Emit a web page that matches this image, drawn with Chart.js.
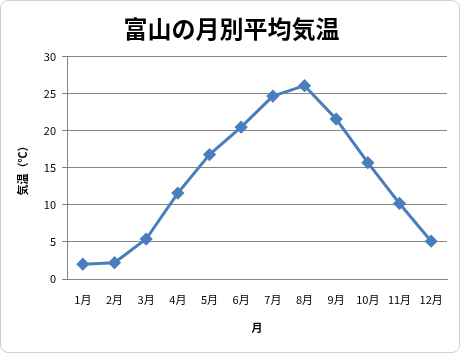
<!DOCTYPE html>
<html>
<head>
<meta charset="utf-8">
<script src="https://cdn.jsdelivr.net/npm/chart.js@4/dist/chart.umd.min.js"></script>
<style>
  html, body { margin: 0; padding: 0; background: #fff; }
  #box { position: relative; width: 458px; height: 351px; border: 1px solid #d0d0d0; border-radius: 8px; overflow: hidden; }
  canvas { position: absolute; left: -1px; top: -1px; }
</style>
</head>
<body>
<div id="box"><canvas id="tempChart" width="460" height="353"></canvas></div>
<script>
var months = ["1月","2月","3月","4月","5月","6月","7月","8月","9月","10月","11月","12月"];
var temps = [2.0, 2.2, 5.4, 11.6, 16.8, 20.5, 24.7, 26.1, 21.6, 15.7, 10.2, 5.1];
var titleText = "富山の月別平均気温";
var xTitle = "月";
var yTitle = "気温（℃）";

var jpFont = "'Noto Sans CJK JP', 'DejaVu Sans', sans-serif";
var axisGray = "#868686";

var ctx = document.getElementById('tempChart').getContext('2d');
new Chart(ctx, {
  type: 'line',
  data: {
    labels: months,
    datasets: [{
      data: temps,
      borderColor: "#4a7ebb",
      backgroundColor: "#4a7ebb",
      borderWidth: 3,
      pointStyle: 'rectRot',
      pointRadius: 4.5,
      pointHoverRadius: 4.5,
      tension: 0,
      fill: false
    }]
  },
  options: {
    responsive: false,
    animation: false,
    events: [],
    layout: { padding: { left: 16, right: 13, top: 0, bottom: 12 } },
    plugins: {
      legend: { display: false },
      tooltip: { enabled: false },
      title: {
        display: true,
        text: titleText,
        color: "#000",
        font: { family: jpFont, size: 24, weight: 'bold' },
        padding: { top: 14, bottom: 14 }
      }
    },
    scales: {
      x: {
        offset: true,
        grid: { display: false, drawTicks: false },
        border: { display: true, color: axisGray, width: 1 },
        ticks: { color: "#000", font: { family: jpFont, size: 11 }, padding: 14, maxRotation: 0, autoSkip: false },
        title: { display: true, text: xTitle, color: "#000", font: { family: jpFont, size: 11, weight: 'bold' }, padding: { top: 0, bottom: 7 } },
        afterFit: function(s) { s.height = 62; }
      },
      y: {
        min: 0, max: 30,
        ticks: { stepSize: 5, color: "#000", font: { family: jpFont, size: 11 }, padding: 6 },
        grid: { color: axisGray, lineWidth: 1, tickLength: 5, drawTicks: true },
        border: { display: true, color: axisGray, width: 1 },
        title: { display: true, text: yTitle, color: "#000", font: { family: jpFont, size: 11, weight: 'bold' }, padding: { top: 0, bottom: 0 } },
        afterFit: function(s) { s.width = 51; }
      }
    }
  }
});
</script>
</body>
</html>
